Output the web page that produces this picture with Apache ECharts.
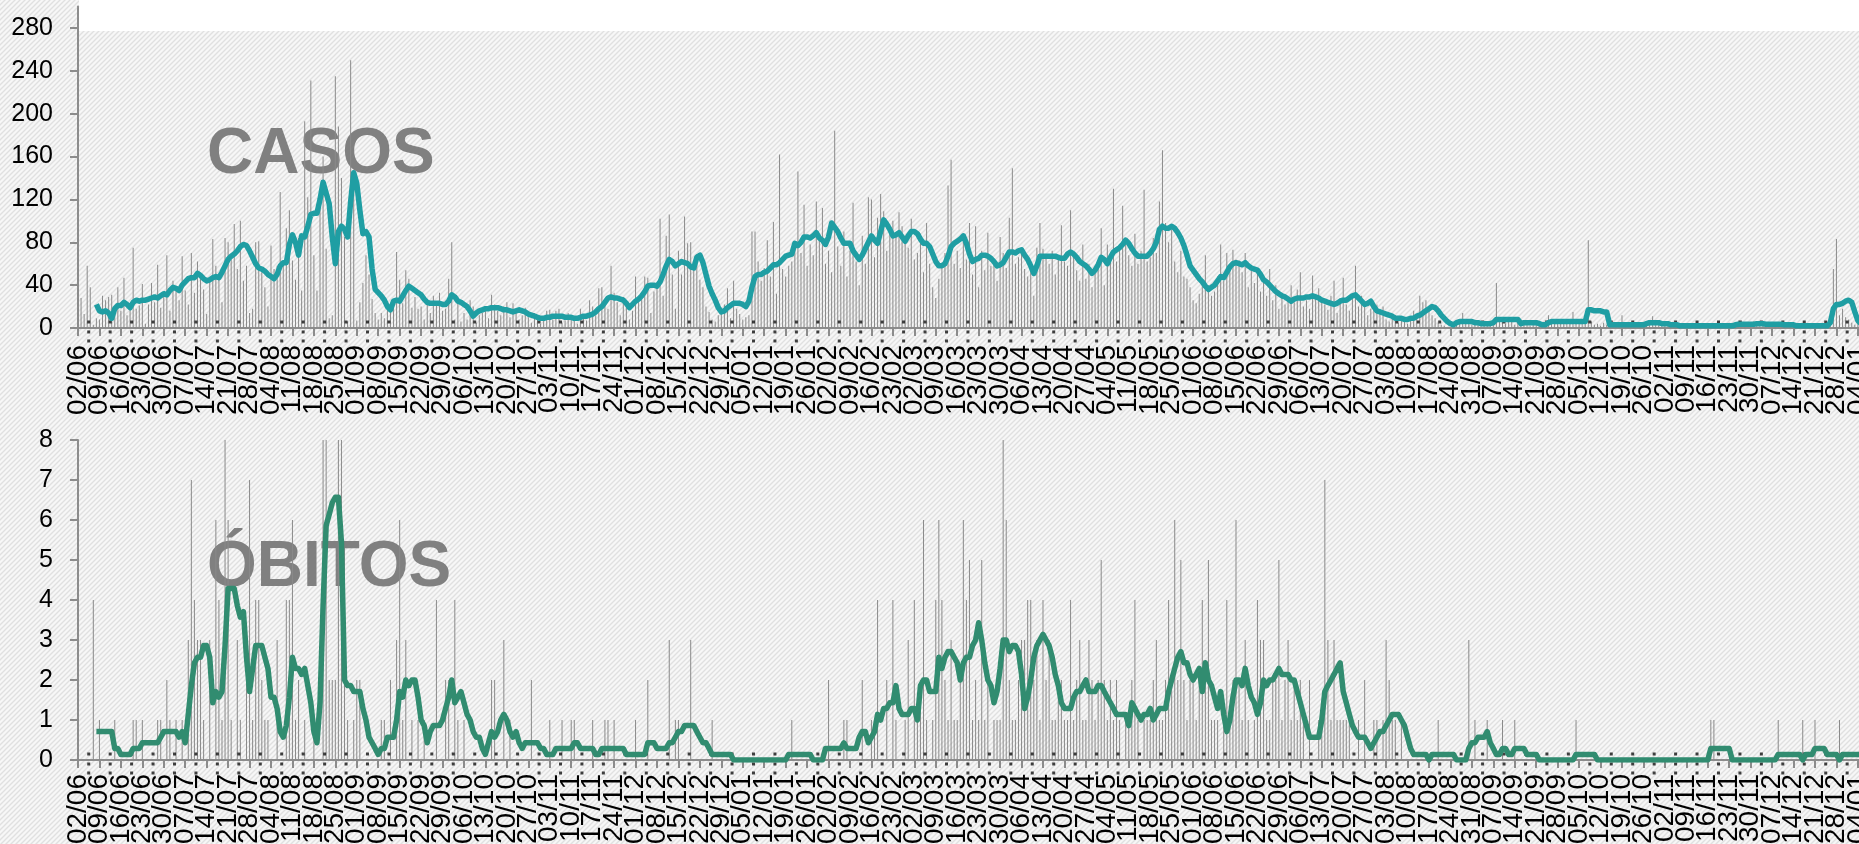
<!DOCTYPE html>
<html>
<head>
<meta charset="utf-8">
<script src="https://cdn.jsdelivr.net/npm/echarts@6/dist/echarts.min.js"></script>
<style>
html,body{margin:0;padding:0;background:#fff;}
#c{width:1859px;height:844px;}
</style>
</head>
<body>
<div id="c"></div>
<script>
// ---- dados (um valor por dia, a partir de 02/06/2020) ----
const ANO_INICIO = 2020, MES_INICIO = 6, DIA_INICIO = 2;
const N_DIAS = 584;

const casos = [
55,28,13,58,38,3,9,
8,30,26,29,31,15,38,
16,47,12,20,75,18,21,
41,4,22,42,24,59,19,
33,68,16,44,38,26,67,
35,22,70,33,62,48,36,
13,46,83,58,45,24,84,
80,64,97,55,100,44,58,
14,18,80,81,52,38,20,
77,55,58,127,63,93,110,
63,45,84,35,193,122,231,
68,35,120,160,74,9,12,
235,188,140,85,6,250,140,
7,24,42,68,50,27,14,
8,14,9,18,15,26,71,
45,23,54,46,19,29,18,
20,8,25,14,30,21,33,
16,18,46,80,8,25,6,
14,8,26,20,5,12,14,
18,9,31,22,16,12,20,
24,10,23,16,8,12,19,
10,5,14,12,4,9,16,
17,8,16,18,5,7,14,
12,9,4,18,10,7,26,
20,12,37,38,26,18,58,
33,24,12,29,26,8,16,
48,26,30,48,47,14,34,
37,102,30,86,106,50,18,
72,50,104,79,80,55,69,
45,38,20,15,8,6,12,
14,22,37,9,44,18,13,
8,10,12,90,90,62,44,
56,82,48,99,32,162,55,
48,58,62,78,146,70,115,
58,78,68,118,86,112,60,
72,52,184,76,58,90,48,
72,117,62,40,86,60,122,
120,66,103,125,109,72,90,
100,86,108,95,84,75,102,
64,70,88,52,98,60,38,
28,46,58,70,133,157,60,
72,56,80,64,98,50,95,
38,72,54,89,58,62,44,
85,70,56,103,149,60,66,
70,55,48,62,30,75,98,
74,68,60,72,50,66,96,
62,58,110,70,54,44,78,
46,60,38,52,62,93,40,
78,66,130,62,72,114,80,
68,58,88,60,72,129,62,
66,84,70,118,166,98,80,
92,62,52,72,48,46,38,
26,23,32,44,68,40,30,
34,48,78,44,70,56,73,
64,63,52,70,38,58,42,
56,34,48,30,55,26,40,
18,32,22,28,40,24,36,
52,20,26,18,49,30,37,
26,22,17,30,44,14,28,
47,22,16,28,58,20,30,
22,12,18,22,22,14,20,
8,6,10,12,5,9,6,
4,8,16,10,30,24,26,
18,12,9,5,3,2,1,
0,2,4,8,14,4,6,
3,4,5,2,6,3,4,
5,42,8,6,4,9,6,
3,5,8,6,4,2,6,
3,4,2,7,12,6,4,
6,8,4,5,6,15,4,
5,6,4,82,6,3,4,
2,5,3,2,4,3,3,
12,2,1,3,4,2,3,
4,2,5,11,4,3,2,
3,2,4,1,2,3,2,
1,3,2,2,1,3,2,
2,1,4,2,3,2,1,
5,3,4,2,7,3,4,
2,6,4,3,5,2,4,
3,2,4,1,2,1,2,
1,2,1,3,2,1,2,
1,2,1,2,3,3,55,
83,12,18,10,8,5,3,
8,4,2
];

const mediaCasos = [
null,null,null,null,null,null,22,
16,15,16,14,9,18,21,
21,24,22,19,24,26,25,
26,26,27,28,29,28,30,
32,31,35,38,37,35,40,
43,46,47,47,51,49,46,
44,45,47,48,47,52,58,
64,67,69,72,76,78,77,
72,66,60,56,55,53,50,
48,46,50,58,61,61,78,
87,80,68,86,85,95,106,
107,107,120,136,126,116,85,
60,90,95,92,85,118,145,
135,110,88,90,85,55,36,
33,30,26,20,17,25,26,
25,30,35,39,37,35,33,
31,27,24,23,23,23,23,
22,22,25,31,29,25,24,
22,20,16,11,14,16,17,
18,18,19,19,19,18,17,
17,16,15,16,17,16,15,
13,12,11,10,9,9,10,
10,11,11,11,11,10,10,
10,9,9,10,11,11,12,
13,15,18,20,24,28,29,
28,28,27,26,23,19,22,
25,27,30,34,39,40,40,
39,43,50,58,64,62,58,
60,62,61,60,57,56,66,
68,61,50,39,32,26,19,
15,16,19,21,23,23,23,
22,20,25,38,48,50,50,
52,53,56,59,59,61,64,
67,68,69,79,77,80,85,
85,84,86,89,84,82,78,
85,98,94,90,84,79,79,
79,72,68,64,68,74,80,
86,82,79,90,101,97,92,
86,87,89,85,81,86,90,
90,88,83,79,79,76,69,
62,58,58,60,67,76,79,
81,83,86,79,69,62,64,
65,68,68,67,65,62,58,
59,61,66,71,71,70,72,
73,68,64,58,51,58,67,
67,67,67,67,67,66,65,
65,69,71,69,66,62,60,
58,55,51,54,59,66,64,
60,66,71,73,75,78,82,
79,74,70,67,67,67,67,
70,74,80,92,95,93,93,
95,93,89,84,77,68,58,
54,50,46,43,39,36,38,
40,44,48,47,52,57,60,
61,60,59,61,58,56,55,
54,50,45,43,40,37,34,
32,30,29,27,25,27,28,
28,28,29,29,30,29,28,
26,25,24,23,22,23,25,
26,26,28,30,31,28,25,
22,23,25,20,16,15,14,
13,12,11,9,9,9,8,
8,9,9,11,12,14,16,
18,20,19,16,12,9,6,
4,3,5,6,6,6,6,
6,5,5,4,4,4,4,
5,8,8,8,8,8,8,
8,8,4,5,5,5,5,
5,4,3,3,5,6,6,
6,6,6,6,6,6,6,
6,6,6,17,17,16,16,
16,15,15,3,3,3,3,
3,3,3,3,3,3,3,
3,4,5,5,5,5,4,
4,4,3,3,3,2,2,
2,2,2,2,2,2,2,
2,2,2,2,2,2,2,
2,2,3,3.5,3.5,3.5,3.5,
3.5,3.5,4,4,4,3.5,3.5,
3.5,3.5,3.5,3.5,3,3,3,
3,2,2,2,2,2,2,
2,2,2,2,2,5,18,
22,22,23,25,26,24,15,
7,4,3
];

const obitos = [
0,0,0,0,0,4,0,
1,0,0,0,0,1,0,
0,0,0,0,1,1,0,
1,0,0,0,0,1,1,
0,2,1,0,1,0,1,
0,3,7,4,3,3,1,
0,3,0,6,4,1,8,
6,1,0,3,1,0,2,
7,1,4,4,2,1,1,
0,0,3,0,0,4,4,
6,1,2,0,1,0,0,
1,0,0,8,8,2,2,
2,8,8,3,1,0,1,
2,2,0,0,0,0,0,
0,1,1,0,2,0,3,
6,1,3,0,1,0,1,
0,1,0,0,0,4,0,
0,2,2,0,4,1,0,
1,0,0,0,0,0,0,
0,0,2,2,0,0,3,
0,1,0,0,0,0,0,
0,2,0,0,0,0,0,
1,0,0,0,1,0,0,
1,1,0,0,0,0,0,
1,0,0,0,1,1,0,
1,0,0,0,0,0,0,
1,0,0,0,2,0,0,
0,0,0,0,3,0,1,
1,0,0,0,3,0,0,
0,0,0,0,1,0,0,
0,0,0,0,0,0,0,
0,0,0,0,0,0,0,
0,0,0,0,0,0,0,
0,0,1,0,0,0,0,
0,0,0,0,0,0,0,
2,0,0,0,0,1,1,
0,0,0,0,2,0,0,
1,1,4,0,0,2,0,
4,1,0,0,1,3,0,
4,1,2,6,1,0,1,
4,6,4,2,1,3,1,
1,2,6,4,5,1,2,
1,5,1,2,0,1,1,
1,8,6,2,1,1,2,
3,3,4,4,2,3,1,
4,2,3,1,1,2,2,
1,1,4,1,2,3,1,
1,3,2,1,2,5,2,
1,2,1,2,1,0,1,
1,2,4,1,0,1,1,
1,2,3,1,1,2,4,
2,6,2,5,2,1,2,
2,1,2,4,2,5,1,
1,1,0,1,4,1,2,
6,2,1,3,1,0,1,
4,3,3,1,1,2,2,
5,1,2,3,1,2,1,
2,1,0,2,0,0,1,
1,7,3,1,3,1,1,
1,1,1,0,0,1,0,
2,0,0,1,1,0,1,
3,2,1,1,0,1,0,
0,0,0,0,0,0,0,
0,0,0,1,0,0,0,
0,0,0,0,0,0,3,
0,1,0,0,0,1,0,
0,0,0,1,0,0,0,
1,0,0,0,0,0,0,
0,0,0,0,0,0,0,
0,0,0,0,0,0,1,
0,0,0,0,0,0,0,
0,0,0,0,0,0,0,
0,0,0,0,0,0,0,
0,0,0,0,0,0,0,
0,0,0,0,0,0,0,
0,0,0,0,0,0,0,
0,1,1,0,0,0,0,
0,0,0,0,0,0,0,
0,0,0,0,0,0,0,
0,0,1,0,0,0,0,
0,0,0,1,0,0,0,
1,0,0,0,0,0,0,
0,1,0,0,0,0,0,
0,0,0
];

const mediaObitos = [
null,null,null,null,null,null,0.71,
0.71,0.71,0.71,0.71,0.71,0.29,0.29,
0.14,0.14,0.14,0.14,0.29,0.29,0.29,
0.43,0.43,0.43,0.43,0.43,0.43,0.57,
0.71,0.71,0.71,0.71,0.71,0.57,0.71,
0.43,1.14,1.86,2.43,2.57,2.57,2.86,
2.86,2.57,1.43,1.71,1.57,1.71,2.86,
4.29,4.29,4.29,3.86,3.57,3.71,2.57,
1.71,2.29,2.86,2.86,2.86,2.57,2.29,
1.57,1.57,1.29,0.71,0.57,0.86,1.57,
2.57,2.29,2.29,2.14,2.29,1.86,1.43,
0.71,0.43,1.43,3.86,5.86,6.14,6.43,
6.57,6.57,5.43,2.0,1.86,1.86,1.71,
1.71,1.71,1.29,1.0,0.57,0.43,0.29,
0.14,0.29,0.29,0.57,0.57,0.57,1.0,
1.71,1.57,2.0,1.86,2.0,2.0,1.57,
1.0,0.86,0.43,0.71,0.86,0.86,0.86,
1.0,1.29,1.57,2.0,1.43,1.57,1.71,
1.43,1.14,1.0,0.71,0.57,0.57,0.29,
0.14,0.43,0.71,0.57,0.71,1.0,1.14,
1.0,0.71,0.57,0.71,0.43,0.29,0.43,
0.43,0.43,0.43,0.43,0.29,0.29,0.14,
0.14,0.14,0.29,0.29,0.29,0.29,0.29,
0.29,0.43,0.43,0.29,0.29,0.29,0.29,
0.29,0.14,0.14,0.29,0.29,0.29,0.29,
0.29,0.29,0.29,0.29,0.14,0.14,0.14,
0.14,0.14,0.14,0.14,0.43,0.43,0.43,
0.29,0.29,0.29,0.29,0.43,0.43,0.57,
0.71,0.71,0.86,0.86,0.86,0.86,0.71,
0.57,0.43,0.43,0.29,0.14,0.14,0.14,
0.14,0.14,0.14,0.14,0,0,0,
0,0,0,0,0,0,0,
0,0,0,0,0,0,0,
0,0.14,0.14,0.14,0.14,0.14,0.14,
0.14,0.14,0,0,0,0,0.29,
0.29,0.29,0.29,0.29,0.29,0.43,0.29,
0.29,0.29,0.29,0.57,0.71,0.71,0.43,
0.57,0.71,1.14,1.0,1.29,1.29,1.43,
1.43,1.86,1.29,1.14,1.14,1.14,1.29,
1.29,1.0,1.86,2.0,2.0,1.71,1.71,
1.71,2.57,2.29,2.57,2.71,2.71,2.57,
2.43,2.0,2.43,2.57,2.57,2.86,3.0,
3.43,3.0,2.43,2.0,1.86,1.43,1.71,
2.29,3.0,3.0,2.71,2.86,2.86,2.71,
2.14,1.29,1.57,2.0,2.57,2.86,3.0,
3.14,3.0,2.86,2.57,2.14,1.86,1.43,
1.29,1.29,1.29,1.57,1.71,1.71,1.86,
2.0,1.71,1.71,1.71,1.86,1.86,1.71,
1.57,1.43,1.29,1.14,1.14,1.14,1.14,
0.86,1.43,1.29,1.14,1.0,1.14,1.14,
1.29,1.0,1.14,1.29,1.29,1.29,1.71,
2.0,2.29,2.57,2.71,2.43,2.43,2.14,
2.0,2.14,2.29,1.71,2.43,2.0,1.86,
1.57,1.29,1.71,1.14,0.71,1.0,1.57,
2.0,2.0,1.86,2.29,1.86,1.57,1.43,
1.14,1.43,2.0,1.86,2.0,2.0,2.14,
2.29,2.14,2.14,2.14,2.0,2.0,1.71,
1.43,1.14,0.86,0.57,0.57,0.57,0.57,
1.0,1.71,1.86,2.0,2.14,2.29,2.43,
1.71,1.43,1.14,0.86,0.71,0.57,0.57,
0.57,0.43,0.29,0.43,0.57,0.71,0.71,
0.86,1.0,1.14,1.14,1.14,1.0,0.86,
0.57,0.29,0.14,0.14,0.14,0.14,0.14,
0,0.14,0.14,0.14,0.14,0.14,0.14,
0.14,0.14,0,0,0,0,0.29,
0.43,0.43,0.57,0.57,0.57,0.71,0.43,
0.29,0.14,0.14,0.29,0.29,0.14,0.14,
0.29,0.29,0.29,0.29,0.14,0.14,0.14,
0.14,0,0,0,0,0,0,
0,0,0,0,0,0,0.14,
0.14,0.14,0.14,0.14,0.14,0.14,0,
0,0,0,0,0,0,0,
0,0,0,0,0,0,0,
0,0,0,0,0,0,0,
0,0,0,0,0,0,0,
0,0,0,0,0,0,0,
0,0.29,0.29,0.29,0.29,0.29,0.29,
0.29,0,0,0,0,0,0,
0,0,0,0,0,0,0,
0,0,0.14,0.14,0.14,0.14,0.14,
0.14,0.14,0.14,0,0.14,0.14,0.14,
0.29,0.29,0.29,0.29,0.14,0.14,0.14,
0.14,0,0.14,0.14,0.14,0.14,0.14,
0.14,0.14,0.14
];

const ticksCasos = [0,40,80,120,160,200,240,280];
const ticksObitos = [0,1,2,3,4,5,6,7,8];
const tituloCasos = 'CASOS';
const tituloObitos = 'ÓBITOS';
const PASSO_ROTULO = 7; // um rótulo por semana

// ---- rótulos de data (dd/mm) ----
const datas = [];
for (let i = 0; i < N_DIAS; i++) {
  const d = new Date(Date.UTC(ANO_INICIO, MES_INICIO - 1, DIA_INICIO + i));
  datas.push(String(d.getUTCDate()).padStart(2,'0') + '/' + String(d.getUTCMonth()+1).padStart(2,'0'));
}

// marcadores pontilhados entre as semanas (decoração)
const posMarcas = [];
for (let k = 0; k * 7 + 3.5 < N_DIAS; k++) posMarcas.push(k * 7 + 3.5);

// ---- fundo hachurado ----
const tile = document.createElement('canvas');
tile.width = 5; tile.height = 5;
const tc = tile.getContext('2d');
tc.fillStyle = '#f7f7f7'; tc.fillRect(0,0,5,5);
tc.strokeStyle = '#e0e0e0'; tc.lineWidth = 1.4;
tc.beginPath();
tc.moveTo(-1,6); tc.lineTo(6,-1);
tc.moveTo(-1,1); tc.lineTo(1,-1);
tc.moveTo(4,6); tc.lineTo(6,4);
tc.stroke();

const FONT = '"Liberation Sans", Arial, sans-serif';
const AXIS_GRAY = '#8c8c8c';

function catAxis(grid, margin) {
  return {
    type: 'category', gridIndex: grid, data: datas, boundaryGap: false,
    axisLine: { lineStyle: { color: AXIS_GRAY, width: 2 } },
    axisTick: { interval: 6, length: 8, lineStyle: { color: AXIS_GRAY, width: 2 } },
    axisLabel: { interval: 0, rotate: 90, fontSize: 28, lineHeight: 18, fontFamily: FONT, color: '#000', margin: margin,
                 hideOverlap: false,
                 formatter: (v, idx) => (idx % PASSO_ROTULO === 0 ? v : '') },
    splitLine: { show: false }
  };
}
function hiddenX(grid) {
  return { type: 'value', gridIndex: grid, min: 0, max: N_DIAS - 1, show: false };
}
function valAxis(grid, max, interval, ticks) {
  return {
    type: 'value', gridIndex: grid, min: 0, max: max, interval: interval,
    axisLine: { show: true, lineStyle: { color: AXIS_GRAY, width: 2 } },
    axisTick: { show: true, length: 8, customValues: ticks, lineStyle: { color: AXIS_GRAY, width: 2 } },
    axisLabel: { fontSize: 25, fontFamily: FONT, color: '#000', margin: 25, customValues: ticks },
    splitLine: { show: false }
  };
}
function dots(xi, yi, y) {
  return {
    type: 'scatter', xAxisIndex: xi, yAxisIndex: yi, silent: true, clip: false,
    symbol: 'rect', symbolSize: 3, itemStyle: { color: '#111' },
    data: posMarcas.map(p => [p, y]), z: 4
  };
}

const chart = echarts.init(document.getElementById('c'), null, { renderer: 'canvas' });
chart.setOption({
  animation: false,
  backgroundColor: 'transparent',
  graphic: [
    { type: 'rect', z: -100, silent: true, shape: { x: 0, y: 0, width: 1859, height: 844 },
      style: { fill: { image: tile, repeat: 'repeat' } } },
    { type: 'rect', z: -99, silent: true, shape: { x: 79, y: 0, width: 1780, height: 31 }, style: { fill: '#ffffff' } },
    { type: 'text', z: -50, silent: true, x: 207, y: 155,
      style: { text: tituloCasos, font: 'bold 64px ' + FONT, fill: '#808080', textAlign: 'left', textVerticalAlign: 'middle' } },
    { type: 'text', z: -50, silent: true, x: 207, y: 568,
      style: { text: tituloObitos, font: 'bold 64px ' + FONT, fill: '#808080', textAlign: 'left', textVerticalAlign: 'middle' } }
  ],
  grid: [
    { left: 78, right: -5, top: 6.6, height: 321.4, containLabel: false, outerBoundsMode: 'none' },
    { left: 78, right: -5, top: 440, height: 320, containLabel: false, outerBoundsMode: 'none' }
  ],
  xAxis: [ catAxis(0, 17), hiddenX(0), catAxis(1, 14), hiddenX(1) ],
  yAxis: [ valAxis(0, 300, 40, ticksCasos), valAxis(1, 8, 1, ticksObitos) ],
  series: [
    { name: 'Casos', type: 'bar', xAxisIndex: 0, yAxisIndex: 0, data: casos, barWidth: 1,
      itemStyle: { color: '#8a8a8a' }, silent: true, z: 2 },
    { name: 'Média casos', type: 'line', xAxisIndex: 0, yAxisIndex: 0, data: mediaCasos, symbol: 'none',
      lineStyle: { color: '#1f9ea3', width: 5.5, join: 'round' }, silent: true, z: 5 },
    dots(1, 0, 5.6), dots(1, 0, -3.7), dots(1, 0, -12.1),
    { name: 'Óbitos', type: 'bar', xAxisIndex: 2, yAxisIndex: 1, data: obitos, barWidth: 1,
      itemStyle: { color: '#8a8a8a' }, silent: true, z: 2 },
    { name: 'Média óbitos', type: 'line', xAxisIndex: 2, yAxisIndex: 1, data: mediaObitos, symbol: 'none',
      lineStyle: { color: '#318c70', width: 5.5, join: 'round' }, silent: true, z: 5 },
    dots(3, 1, 0.15), dots(3, 1, -0.1), dots(3, 1, -0.325)
  ]
});
</script>
</body>
</html>
